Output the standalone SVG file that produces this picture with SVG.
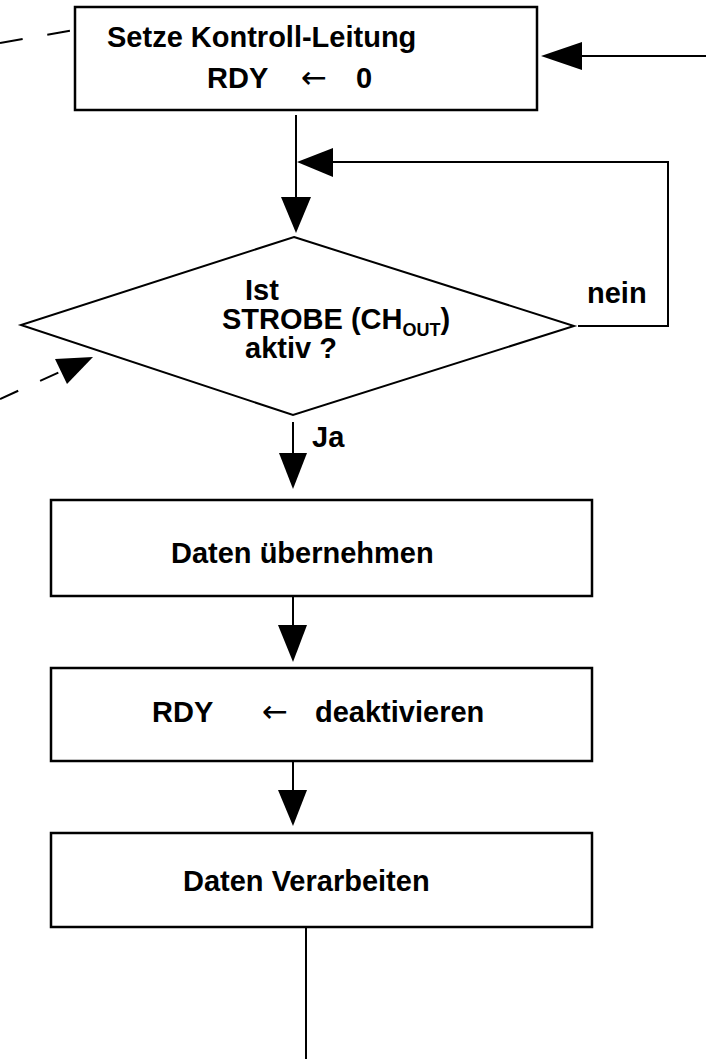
<svg xmlns="http://www.w3.org/2000/svg" width="706" height="1059" viewBox="0 0 706 1059">
  <defs>
    <style>
      .box { fill: #ffffff; stroke: #000000; stroke-width: 2.5; }
      .line { fill: none; stroke: #000000; stroke-width: 2; }
      .dash { fill: none; stroke: #000000; stroke-width: 2; }
      .head { fill: #000000; stroke: none; }
      .lbl { font-family: "Liberation Sans", Arial, Helvetica, sans-serif; font-weight: bold; font-size: 29px; fill: #000000; }
      .sub { font-family: "Liberation Sans", Arial, Helvetica, sans-serif; font-weight: bold; font-size: 18px; fill: #000000; }
      .arr { font-family: "DejaVu Sans", "Liberation Sans", sans-serif; font-weight: normal; font-size: 31px; fill: #000000; }
    </style>
  </defs>
  <rect width="706" height="1059" fill="#ffffff"/>

  <!-- connectors -->
  <g id="connectors">
    <!-- incoming dashed line to the first step -->
    <line class="dash" x1="0" y1="43" x2="74" y2="30" stroke-dasharray="23 25"/>
    <!-- incoming arrow from the right -->
    <line class="line" x1="706" y1="56" x2="580" y2="56"/>
    <polygon class="head" points="541,56 582,42 582,70"/>
    <!-- step 1 -> decision -->
    <line class="line" x1="296" y1="115" x2="296" y2="199"/>
    <polygon class="head" points="296,233 281,197 311,197"/>
    <!-- "nein" loop back -->
    <polyline class="line" points="578,326 668,326 668,162 331,162"/>
    <polygon class="head" points="297,162 333,148 333,177"/>
    <!-- incoming dashed arrow to the decision -->
    <line class="dash" x1="0" y1="399" x2="62" y2="371" stroke-dasharray="20 24"/>
    <polygon class="head" points="93,357 55,359 67,384"/>
    <!-- decision -> Daten übernehmen -->
    <line class="line" x1="293" y1="422" x2="293" y2="455"/>
    <polygon class="head" points="293,489 279,453 307,453"/>
    <!-- Daten übernehmen -> RDY deaktivieren -->
    <line class="line" x1="293" y1="596" x2="293" y2="627"/>
    <polygon class="head" points="293,662 278,625 307,625"/>
    <!-- RDY deaktivieren -> Daten Verarbeiten -->
    <line class="line" x1="293" y1="761" x2="293" y2="792"/>
    <polygon class="head" points="293,826 278,790 307,790"/>
    <!-- outgoing line -->
    <line class="line" x1="306" y1="927" x2="306" y2="1059"/>
  </g>

  <!-- step 1 -->
  <g id="node-setze">
    <rect class="box" x="75" y="7" width="462" height="103"/>
    <text class="lbl" x="107" y="47">Setze Kontroll-Leitung</text>
    <text class="lbl" x="207" y="88">RDY</text>
    <text class="arr" x="301" y="88">←</text>
    <text class="lbl" x="356" y="88">0</text>
  </g>

  <!-- decision -->
  <g id="node-strobe">
    <polygon class="box" points="294,237 574,326 293,415 21,325" style="stroke-width:2"/>
    <text class="lbl" x="245" y="300">Ist</text>
    <text class="lbl" x="222" y="329">STROBE (CH<tspan class="sub" dy="7">OUT</tspan><tspan dy="-7">)</tspan></text>
    <text class="lbl" x="245" y="358">aktiv ?</text>
    <text class="lbl" x="587" y="303">nein</text>
    <text class="lbl" x="312" y="447">Ja</text>
  </g>

  <!-- step 2 -->
  <g id="node-uebernehmen">
    <rect class="box" x="51" y="500" width="541" height="96"/>
    <text class="lbl" x="171" y="563">Daten übernehmen</text>
  </g>

  <!-- step 3 -->
  <g id="node-deaktivieren">
    <rect class="box" x="51" y="668" width="541" height="93"/>
    <text class="lbl" x="152" y="722">RDY</text>
    <text class="arr" x="262" y="722">←</text>
    <text class="lbl" x="315" y="722">deaktivieren</text>
  </g>

  <!-- step 4 -->
  <g id="node-verarbeiten">
    <rect class="box" x="51" y="833" width="541" height="94"/>
    <text class="lbl" x="183" y="891">Daten Verarbeiten</text>
  </g>
</svg>
